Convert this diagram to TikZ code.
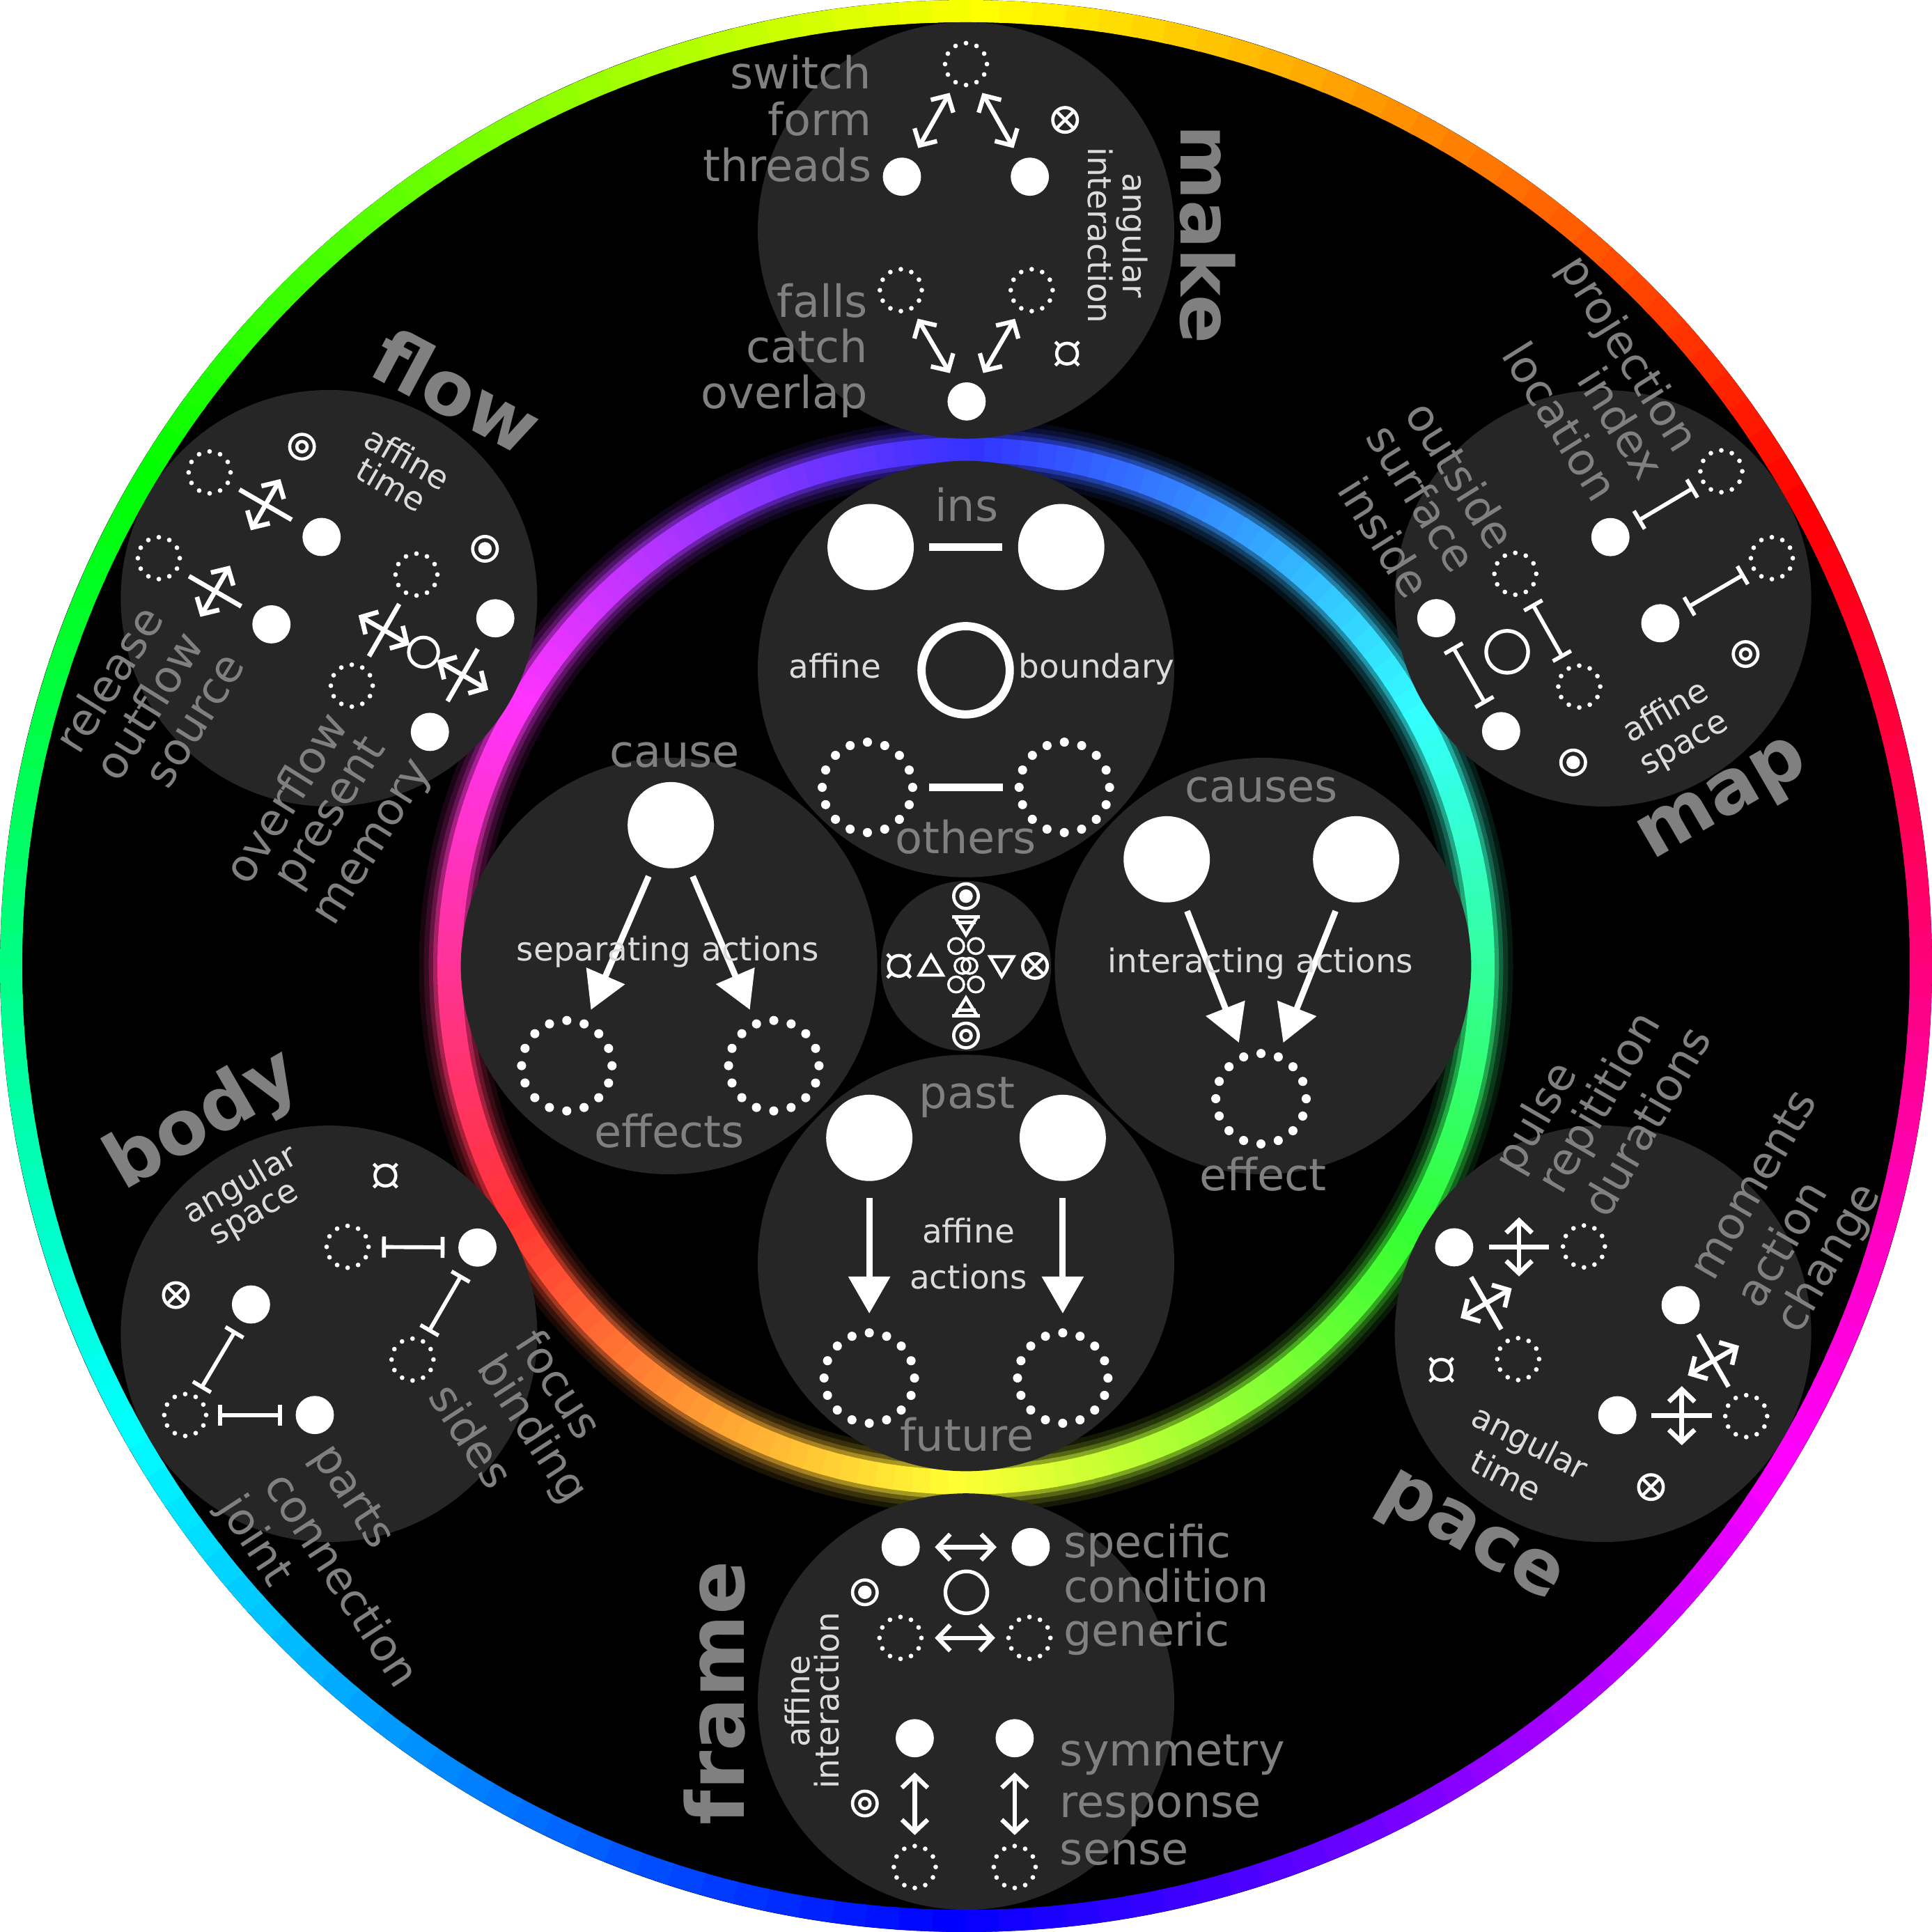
\documentclass[tikz,border=0pt]{standalone}
\usepackage{fontspec}
\setmainfont{DejaVu Sans}
\usetikzlibrary{arrows.meta,calc,positioning}

\definecolor{discgray}{HTML}{262626}
\definecolor{labgray}{HTML}{808080}
\definecolor{notegray}{HTML}{DCDCDC}

\tikzset{
  disc/.style={circle, fill=discgray, inner sep=0pt, minimum size=338pt},
  hubdisc/.style={circle, fill=discgray, inner sep=0pt, minimum size=138pt},
  wdot/.style={circle, fill=white, inner sep=0pt, minimum size=31pt},
  bigdot/.style={circle, fill=white, inner sep=0pt, minimum size=70pt},
  hole/.style={circle, draw=white, line width=3pt, inner sep=0pt, minimum size=#1},
  hole/.default=34pt,
  dotring/.style={circle, draw=white, inner sep=0pt, minimum size=34pt,
    line width=3.8pt, line cap=round, dash pattern=on 0pt off 8.9pt},
  bigdotring/.style={circle, draw=white, inner sep=0pt, minimum size=73.4pt,
    line width=7.4pt, line cap=round, dash pattern=on 0pt off 14.41pt},
  twohead/.style={white, line width=3.6pt,
    {Straight Barb[length=10pt,width=21pt]}-{Straight Barb[length=10pt,width=21pt]}},
  ibeam/.style={white, line width=3.2pt, {Bar[width=17pt]}-{Bar[width=17pt]}},
  fatarrow/.style={white, line width=5pt, -{Triangle[length=30pt,width=33pt]}},
  tie/.style={white, line width=6.7pt},
  sublbl/.style={text=labgray, inner sep=0pt, font=\fontsize{36pt}{40pt}\selectfont},
  notelbl/.style={text=notegray, inner sep=0pt, font=\fontsize{26.5pt}{30pt}\selectfont},
  titlelbl/.style={text=labgray, inner sep=0pt, font=\bfseries\fontsize{#1}{#1}\selectfont},
  titlelbl/.default=61pt,
  symline/.style={white, line width=2.6pt},
  pics/bullsym/.style={code={
    \draw[symline] (0,0) circle (10);
    \fill[white] (0,0) circle (5.5);}},
  pics/targetsym/.style={code={
    \draw[symline] (0,0) circle (10) (0,0) circle (4.2);}},
  pics/otimessym/.style={code={
    \draw[symline] (0,0) circle (10) (45:10) -- (225:10) (135:10) -- (315:10);}},
  pics/currsym/.style={code={
    \draw[symline] (0,0) circle (8.4);
    \foreach \a in {45,135,225,315} \draw[symline] (\a:8.4) -- (\a:13.5);}},
  pics/upsym/.style={code={
    \draw[symline] (-9.5,7.5) -- (9.5,7.5) -- (0,-8.5) -- cycle;}},
  pics/downsym/.style={code={
    \draw[symline] (-9.5,-7.5) -- (9.5,-7.5) -- (0,8.5) -- cycle;}},
  pics/earthsym/.style={code={
    \draw[symline] (-9,-6.5) -- (9,-6.5) -- (0,8) -- cycle;
    \draw[symline] (-11.5,-6.5) -- (11.5,-6.5) (-8,-2) -- (8,-2);}},
  pics/airsym/.style={code={
    \draw[symline] (-9,6.5) -- (9,6.5) -- (0,-8) -- cycle;
    \draw[symline] (-11.5,6.5) -- (11.5,6.5) (-8,2) -- (8,2);}},
  pics/crossarrow/.style={code={
    \draw[white, line width=3.8pt] (-24.5,0) -- (24.5,0);
    \draw[twohead, line width=3.8pt] (0,-24) -- (0,24);}}
}

\begin{document}
\begin{tikzpicture}[x=1pt, y=-1pt]
\useasboundingbox (0,0) rectangle (1568,1568);
\fill[white] (0,0) rectangle (1568,1568);
\fill[black] (784,784) circle (784);

% outer colour rim
\foreach \t in {0,2,...,358} {
  \pgfmathsetmacro\h{mod(420-\t,360)}
  \convertcolorspec{Hsb}{\h,1,1}{rgb}\rimspec
  \definecolor{rim}{rgb}{\rimspec}
  \draw[rim, line width=18] (784,784) ++(\t-90:775) arc[start angle=\t-90, delta angle=2.3, radius=775];
}

% inner glowing rim
\foreach \w/\k in {50/10,42/22,34/40,27/65,20/100} {
  \foreach \t in {0,2,...,358} {
    \pgfmathsetmacro\h{mod(600-\t,360)}
    \convertcolorspec{Hsb}{\h,0.8,1}{rgb}\glowspec
    \definecolor{glow}{rgb}{\glowspec}
    \draw[glow!\k!black, line width=\w] (784,784) ++(\t-90:419) arc[start angle=\t-90, delta angle=2.3, radius=419];
  }
}

% discs
\node[disc] (mkdisc) at (784,187) {};
\node[disc] (mpdisc) at (1301,485.5) {};
\node[disc] (pcdisc) at (1301,1082.5) {};
\node[disc] (frdisc) at (784,1381) {};
\node[disc] (bddisc) at (267,1082.5) {};
\node[disc] (fldisc) at (267,485.5) {};
\node[disc] (topdisc) at (784,543) {};
\node[disc] (lftdisc) at (543,784) {};
\node[disc] (rgtdisc) at (1025,784) {};
\node[disc] (botdisc) at (784,1025) {};
\node[hubdisc] (hub) at (784,784) {};

% make
\node[dotring] (mk1) at (784,52) {};
\node[wdot] (mk2) at (732,143.4) {};
\node[wdot] (mk3) at (835.8,143.4) {};
\node[dotring] (mk4) at (731.1,235.5) {};
\node[dotring] (mk5) at (837.3,235.5) {};
\node[wdot] (mk6) at (784.5,325.8) {};
\draw[twohead, shorten <=11pt, shorten >=8pt] (mk2) -- (mk1);
\draw[twohead, shorten <=8pt, shorten >=11pt] (mk1) -- (mk3);
\draw[twohead, shorten <=8pt, shorten >=11pt] (mk4) -- (mk6);
\draw[twohead, shorten <=11pt, shorten >=8pt] (mk6) -- (mk5);
\pic at (864.4,97.3) {otimessym};
\pic at (866,287) {currsym};
\node[sublbl, anchor=base east] (mkl1) at (707.5,72) {switch};
\node[sublbl, anchor=base east] (mkl2) at (707.5,110) {form};
\node[sublbl, anchor=base east] (mkl3) at (707.5,147) {threads};
\node[sublbl, anchor=base east] (mkl4) at (704.5,257.5) {falls};
\node[sublbl, anchor=base east] (mkl5) at (704.5,294) {catch};
\node[sublbl, anchor=base east] (mkl6) at (704.5,331.5) {overlap};
\node[notelbl, rotate=-90] (mkn1) at (918.6,191) {angular};
\node[notelbl, rotate=-90] (mkn2) at (893,191) {interaction};
\node[titlelbl=58.5pt, rotate=-90] (mkt) at (980,190) {make};

% map
\node[wdot] (mp1) at (1307,435.9) {};
\node[wdot] (mp2) at (1347.5,505.8) {};
\node[wdot] (mp3) at (1165.7,501.7) {};
\node[wdot] (mp4) at (1218.3,593.4) {};
\node[dotring] (mq1) at (1397,382.5) {};
\node[dotring] (mq2) at (1438,453) {};
\node[dotring] (mq3) at (1229.8,465.7) {};
\node[dotring] (mq4) at (1281.7,557.2) {};
\node[hole] (mr) at (1223.2,529) {};
\draw[ibeam, shorten <=10pt, shorten >=7pt] (mp1) -- (mq1);
\draw[ibeam, shorten <=10pt, shorten >=7pt] (mp2) -- (mq2);
\draw[ibeam, shorten <=9pt, shorten >=8pt] (mq3) -- (mq4);
\draw[ibeam, shorten <=11pt, shorten >=10pt] (mp3) -- (mp4);
\pic at (1416.7,530.8) {targetsym};
\pic at (1276.8,618.8) {bullsym};
\node[sublbl, rotate=-58] (mpl1) at (1320.1,288) {projection};
\node[sublbl, rotate=-58] (mpl2) at (1316.1,343.2) {index};
\node[sublbl, rotate=-58] (mpl3) at (1266.8,341.7) {location};
\node[sublbl, rotate=-58] (mpl4) at (1185.8,385.4) {outside};
\node[sublbl, rotate=-58] (mpl5) at (1154.1,404) {surface};
\node[sublbl, rotate=-58] (mpl6) at (1123.8,435.8) {inside};
\node[notelbl, rotate=30] (mpn1) at (1351,576) {affine};
\node[notelbl, rotate=30] (mpn2) at (1368.2,606.1) {space};
\node[titlelbl, rotate=30] (mpt) at (1400,652) {map};

% pace
\node[wdot] (pd1) at (1180.2,1012.3) {};
\node[wdot] (pd2) at (1364,1059.2) {};
\node[wdot] (pd3) at (1312.6,1148.6) {};
\node[dotring] (pq1) at (1285.5,1011.6) {};
\node[dotring] (pq2) at (1232.1,1103) {};
\node[dotring] (pq3) at (1417.2,1149.3) {};
\pic at ($(pd1)!0.5!(pq1)$) {crossarrow};
\pic[rotate=-60] at ($(pd1)!0.5!(pq2)$) {crossarrow};
\pic[rotate=-60] at ($(pd2)!0.5!(pq3)$) {crossarrow};
\pic at ($(pd3)!0.5!(pq3)$) {crossarrow};
\pic at (1169.8,1111.7) {currsym};
\pic at (1339.9,1206.9) {otimessym};
\node[sublbl, rotate=60] (pcl1) at (1248.2,907.8) {pulse};
\node[sublbl, rotate=60] (pcl2) at (1299.4,895.5) {repitition};
\node[sublbl, rotate=60] (pcl3) at (1335.8,909.6) {durations};
\node[sublbl, rotate=60] (pcl4) at (1422.3,961) {moments};
\node[sublbl, rotate=60] (pcl5) at (1445,1008.9) {action};
\node[sublbl, rotate=60] (pcl6) at (1485,1021.7) {change};
\node[notelbl, rotate=-27] (pcn1) at (1240.8,1172.2) {angular};
\node[notelbl, rotate=-27] (pcn2) at (1222.5,1197.3) {time};
\node[titlelbl, rotate=-30] (pct) at (1192,1250) {pace};

% frame
\node[wdot] (fr1) at (731,1255.6) {};
\node[wdot] (fr2) at (836.5,1255.6) {};
\node[hole] (fr0) at (784.3,1292.3) {};
\node[dotring] (fr3) at (730.8,1329.3) {};
\node[dotring] (fr4) at (835.5,1329.3) {};
\node[wdot] (fr5) at (742.4,1410.7) {};
\node[wdot] (fr6) at (823.5,1410.7) {};
\node[dotring] (fr7) at (742.4,1515.2) {};
\node[dotring] (fr8) at (823.5,1515.2) {};
\draw[twohead, shorten <=12pt, shorten >=12pt] (fr1) -- (fr2);
\draw[twohead, shorten <=9pt, shorten >=9pt] (fr3) -- (fr4);
\draw[twohead, shorten <=12pt, shorten >=7pt] (fr5) -- (fr7);
\draw[twohead, shorten <=12pt, shorten >=7pt] (fr6) -- (fr8);
\pic at (701.9,1292.3) {bullsym};
\pic at (701.9,1463.7) {targetsym};
\node[sublbl, anchor=base west] (frl1) at (863,1264) {specific};
\node[sublbl, anchor=base west] (frl2) at (863,1300.5) {condition};
\node[sublbl, anchor=base west] (frl3) at (863,1336) {generic};
\node[sublbl, anchor=base west] (frl4) at (860,1433) {symmetry};
\node[sublbl, anchor=base west] (frl5) at (860,1475) {response};
\node[sublbl, anchor=base west] (frl6) at (860,1513.5) {sense};
\node[notelbl, rotate=90] (frn1) at (647.3,1380.7) {affine};
\node[notelbl, rotate=90] (frn2) at (671,1380) {interaction};
\node[titlelbl=64.5pt, rotate=90] (frt) at (580,1374) {frame};

% body
\node[wdot] (bd1) at (387.5,1012.5) {};
\node[wdot] (bd2) at (203.7,1058.7) {};
\node[wdot] (bd3) at (255.5,1148.4) {};
\node[dotring] (bq1) at (282.1,1011.9) {};
\node[dotring] (bq2) at (334.8,1103.4) {};
\node[dotring] (bq3) at (150.3,1148.4) {};
\draw[ibeam, shorten <=9pt, shorten >=11pt] (bq1) -- (bd1);
\draw[ibeam, shorten <=10pt, shorten >=7pt] (bd1) -- (bq2);
\draw[ibeam, shorten <=9pt, shorten >=6pt] (bd2) -- (bq3);
\draw[ibeam, shorten <=8pt, shorten >=11pt] (bq3) -- (bd3);
\pic at (312.8,954.1) {currsym};
\pic at (142.7,1051.1) {otimessym};
\node[sublbl, rotate=-57] (bdl1) at (454.5,1123.2) {focus};
\node[sublbl, rotate=-57] (bdl2) at (431.1,1160.7) {binding};
\node[sublbl, rotate=-57] (bdl3) at (383,1165) {sides};
\node[sublbl, rotate=-57] (bdl4) at (284.9,1215.4) {parts};
\node[sublbl, rotate=-57] (bdl5) at (278.5,1281.3) {connection};
\node[sublbl, rotate=-57] (bdl6) at (206.2,1251.1) {joint};
\node[notelbl, rotate=30] (bdn1) at (195.4,962.1) {angular};
\node[notelbl, rotate=30] (bdn2) at (207.6,987.3) {space};
\node[titlelbl, rotate=30] (bdt) at (165,910) {body};

% flow
\node[wdot] (fd1) at (261,435.8) {};
\node[wdot] (fd2) at (220.3,506.7) {};
\node[wdot] (fd3) at (402,501.8) {};
\node[wdot] (fd4) at (348.9,594) {};
\node[dotring] (fq1) at (170.1,383.4) {};
\node[dotring] (fq2) at (128.9,453) {};
\node[dotring] (fq3) at (338,466.3) {};
\node[dotring] (fq4) at (285.5,556.5) {};
\node[hole=24pt, line width=2.8pt] (fo) at (343.7,529.3) {};
\pic[rotate=-30] at ($(fq1)!0.5!(fd1)$) {crossarrow};
\pic[rotate=-30] at ($(fq2)!0.5!(fd2)$) {crossarrow};
\pic[rotate=60] at ($(fq4)!0.5!(fq3)$) {crossarrow};
\pic[rotate=60] at ($(fd4)!0.5!(fd3)$) {crossarrow};
\pic at (245.1,362.5) {targetsym};
\pic at (393.6,445.4) {bullsym};
\node[sublbl, rotate=58] (fll1) at (87.8,550.9) {release};
\node[sublbl, rotate=58] (fll2) at (120.2,572.4) {outflow};
\node[sublbl, rotate=58] (fll3) at (159.9,585.7) {source};
\node[sublbl, rotate=58] (fll4) at (231.3,647) {overflow};
\node[sublbl, rotate=58] (fll5) at (269.5,660.4) {present};
\node[sublbl, rotate=58] (fll6) at (305.5,685.2) {memory};
\node[notelbl, rotate=-30] (fln1) at (330.8,371.7) {affine};
\node[notelbl, rotate=-30] (fln2) at (317.8,393.3) {time};
\node[titlelbl, rotate=-28] (flt) at (371,317) {flow};

% inner top: ins / others
\node[bigdot] (ti1) at (706.6,444) {};
\node[bigdot] (ti2) at (861.3,444) {};
\node[circle, draw=white, line width=6.7pt, inner sep=0pt, minimum size=71.6pt] (tb) at (783.7,544) {};
\node[bigdotring] (to1) at (704,639) {};
\node[bigdotring] (to2) at (863.8,639) {};
\draw[tie, shorten <=12.5pt, shorten >=12.5pt] (ti1) -- (ti2);
\draw[tie, shorten <=9.5pt, shorten >=9.5pt] (to1) -- (to2);
\node[sublbl, anchor=base] (tl1) at (784.5,423.2) {ins};
\node[sublbl, anchor=base] (tl2) at (783.7,692.6) {others};
\node[notelbl, anchor=base] (tn1) at (677.6,550) {affine};
\node[notelbl, anchor=base] (tn2) at (890,550) {boundary};

% inner left: cause / effects
\node[bigdot] (lc) at (544.4,669.7) {};
\node[bigdotring] (le1) at (460,864.9) {};
\node[bigdotring] (le2) at (628,864.9) {};
\draw[fatarrow, shorten <=10pt, shorten >=9pt] (lc) -- (le1);
\draw[fatarrow, shorten <=10pt, shorten >=9pt] (lc) -- (le2);
\node[sublbl, anchor=base] (ll1) at (547.4,622.8) {cause};
\node[notelbl, anchor=base] (ln1) at (542,779.9) {separating actions};
\node[sublbl, anchor=base] (ll2) at (543.2,931) {effects};

% inner right: causes / effect
\node[bigdot] (rc1) at (946.9,697.4) {};
\node[bigdot] (rc2) at (1100.6,697.4) {};
\node[bigdotring] (re) at (1023.4,891.7) {};
\draw[fatarrow, shorten <=10pt, shorten >=8.5pt] (rc1) -- (re);
\draw[fatarrow, shorten <=10pt, shorten >=8.5pt] (rc2) -- (re);
\node[sublbl, anchor=base] (rl1) at (1023.7,651) {causes};
\node[notelbl, anchor=base] (rn1) at (1023.1,789.3) {interacting actions};
\node[sublbl, anchor=base] (rl2) at (1025,966) {effect};

% inner bottom: past / future
\node[bigdot] (bp1) at (705.5,923.5) {};
\node[bigdot] (bp2) at (862.5,923.5) {};
\node[bigdotring] (bf1) at (705.5,1118.4) {};
\node[bigdotring] (bf2) at (862.5,1118.4) {};
\draw[fatarrow, shorten <=13.5pt, shorten >=12pt] (bp1) -- (bf1);
\draw[fatarrow, shorten <=13.5pt, shorten >=12pt] (bp2) -- (bf2);
\node[sublbl, anchor=base] (bl1) at (784.9,899.3) {past};
\node[notelbl, anchor=base] (bn1) at (786,1008.9) {affine};
\node[notelbl, anchor=base] (bn2) at (786,1045.8) {actions};
\node[sublbl, anchor=base] (bl2) at (784.9,1177.6) {future};

% hub symbols
\pic at (784,727.3) {bullsym};
\pic at (784,750.7) {earthsym};
\draw[white, line width=2pt] (776,767.8) circle (6.3) (792,767.8) circle (6.3);
\draw[white, line width=2pt] (781.2,783.9) circle (6.3) (786.8,783.9) circle (6.3);
\draw[white, line width=2pt] (776,799) circle (6.3) (792,799) circle (6.3);
\pic at (784,817.8) {airsym};
\pic at (784,840.4) {targetsym};
\pic at (729.6,783.9) {currsym};
\pic at (755.6,783.9) {upsym};
\pic at (813,783.9) {downsym};
\pic at (840,783.9) {otimessym};
\end{tikzpicture}
\end{document}
